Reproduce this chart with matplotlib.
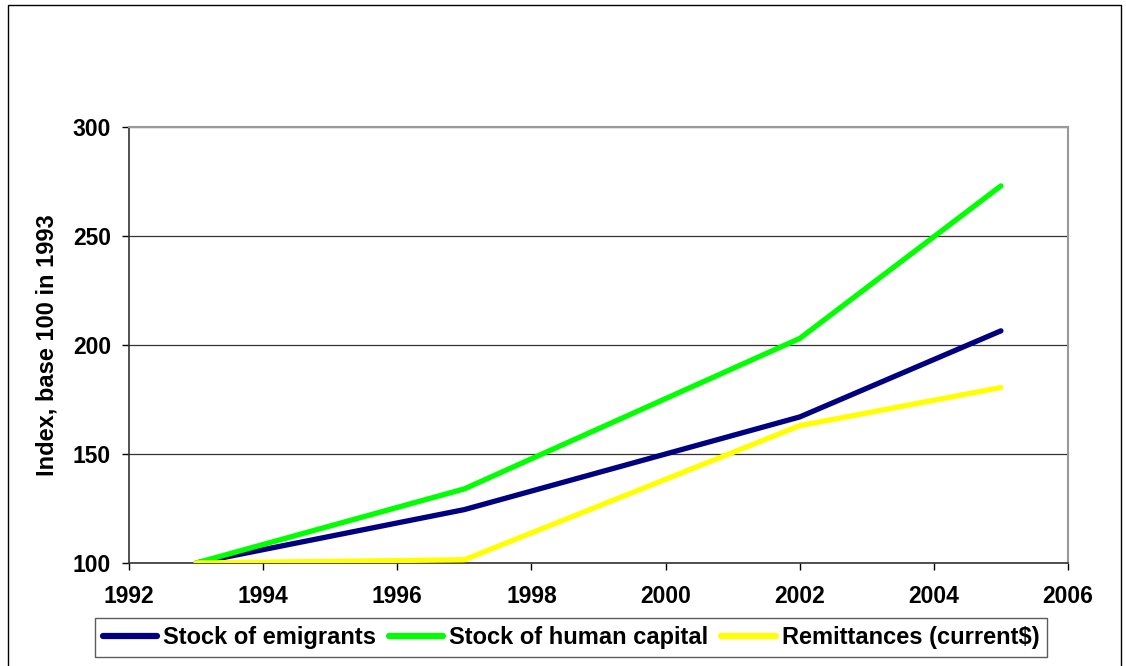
"""
Index of emigrants, human capital and remittances, base 100 in 1993
"""
import matplotlib
matplotlib.use('Agg')
import matplotlib.pyplot as plt
from matplotlib.patches import Rectangle

plt.rcParams['font.family'] = ['Liberation Sans', 'DejaVu Sans']
plt.rcParams['font.weight'] = 'bold'

# Data
years = [1993, 1997, 2002, 2005]
emigrants = [100, 124.5, 167, 206.5]
human_capital = [100, 134, 203, 273]
remittances = [100, 101.5, 163, 180.5]

x_ticks = [1992, 1994, 1996, 1998, 2000, 2002, 2004, 2006]
y_ticks = [100, 150, 200, 250, 300]

fig = plt.figure(figsize=(11.26, 6.66), dpi=100)
ax = fig.add_axes([129 / 1126, 1 - 563 / 666, (1068 - 129) / 1126, (563 - 127) / 666])

ax.plot(years, emigrants, color='#000080', lw=3.8, solid_capstyle='round', label='Stock of emigrants', zorder=3)
ax.plot(years, human_capital, color='#00FF00', lw=3.8, solid_capstyle='round', label='Stock of human capital', zorder=3)
ax.plot(years, remittances, color='#FFFF00', lw=3.8, solid_capstyle='round', label='Remittances (current$)', zorder=3)

ax.set_xlim(1992, 2006)
ax.set_ylim(100, 300)
ax.set_xticks(x_ticks)
ax.set_yticks(y_ticks)
ax.tick_params(labelsize=16.5, length=5, width=1, direction='out')
ax.tick_params(axis='x', pad=11)
ax.tick_params(axis='y', pad=8)
for lab in ax.get_xticklabels() + ax.get_yticklabels():
    lab.set_fontweight('bold')

# Horizontal gridlines only
ax.yaxis.grid(True, color='#333333', lw=0.9)
ax.set_axisbelow(True)

for side in ['left', 'bottom']:
    ax.spines[side].set_color('#333333')
    ax.spines[side].set_linewidth(1.2)
for side in ['top', 'right']:
    ax.spines[side].set_color('#999999')
    ax.spines[side].set_linewidth(1.5)

ax.set_ylabel('Index, base 100 in 1993', fontsize=17, fontweight='bold')
ax.yaxis.set_label_coords(-0.075, 0.5)

# Legend below the chart
leg = fig.legend(loc='center', bbox_to_anchor=(571 / 1126, 1 - 637.5 / 666), ncol=3,
                 fontsize=17, frameon=True, fancybox=False, edgecolor='#333333',
                 handlelength=2.3, handletextpad=0.25, columnspacing=0.55,
                 borderpad=0.35, borderaxespad=0)
leg.get_frame().set_linewidth(1.0)
for t in leg.get_texts():
    t.set_fontweight('bold')
for h in leg.get_lines():
    h.set_linewidth(4.5)

# Outer border of the chart object
fig.patches.append(Rectangle((8 / 1126, -0.02), (1121 - 8) / 1126, 1 - 5 / 666 + 0.02,
                             transform=fig.transFigure, fill=False,
                             edgecolor='black', lw=1.0))

fig.savefig('out.png', dpi=100)
